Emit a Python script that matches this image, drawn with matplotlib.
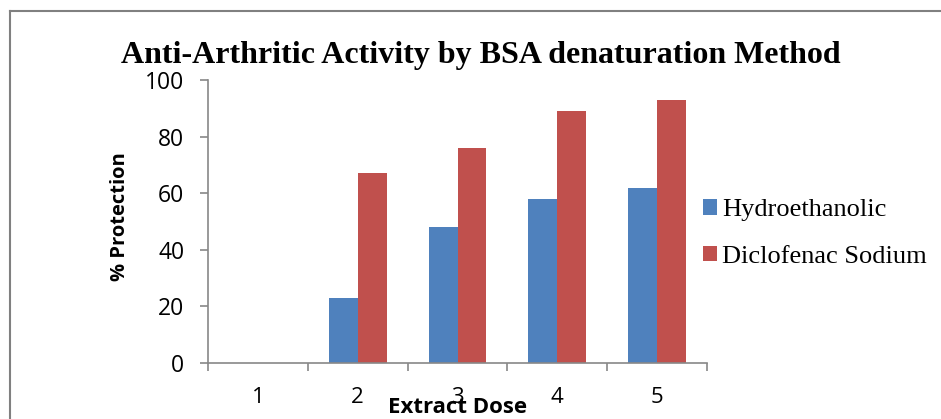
import matplotlib
matplotlib.use("Agg")
import matplotlib.pyplot as plt
import numpy as np
from matplotlib.lines import Line2D

categories = ["1", "2", "3", "4", "5"]
hydroethanolic = [0, 23, 48, 58, 62]
diclofenac = [0, 67, 76, 89, 93]
series_names = ["Hydroethanolic", "Diclofenac Sodium"]
colors = ["#4F81BD", "#C0504D"]

fig = plt.figure(figsize=(9.41, 4.19), dpi=100)
ax = fig.add_axes([208/941, 56/419, 499/941, 283/419])

x = np.arange(len(categories))
w = 0.29
ax.bar(x - w/2, hydroethanolic, w, color=colors[0], label=series_names[0])
ax.bar(x + w/2, diclofenac, w, color=colors[1], label=series_names[1])

ax.set_xlim(-0.5, len(categories) - 0.5)
ax.set_ylim(0, 100)
ax.set_yticks(np.arange(0, 101, 20))
ax.set_xticks(np.arange(-0.5, len(categories), 1.0))
ax.set_xticklabels([])
ax.set_xticks(x, minor=True)
ax.set_xticklabels(categories, minor=True)
ax.tick_params(axis="x", which="minor", length=0, pad=17, labelsize=16)
ax.tick_params(axis="x", which="major", length=6, color="#888888", width=1.2)
ax.tick_params(axis="y", length=6, color="#888888", width=1.2, labelsize=16.5, pad=11)
for lab in ax.get_xticklabels(minor=True) + ax.get_yticklabels():
    lab.set_family("Open Sans")

for s in ["top", "right"]:
    ax.spines[s].set_visible(False)
for s in ["left", "bottom"]:
    ax.spines[s].set_color("#888888")
    ax.spines[s].set_linewidth(1.2)

ax.set_ylabel("% Protection", fontsize=14.5, fontweight="bold", family="Open Sans")
ax.yaxis.label.set_va("center")
ax.yaxis.set_label_coords(-0.176, 0.516)
ax.set_xlabel("Extract Dose", fontsize=16, fontweight="bold", family="Open Sans")
ax.xaxis.label.set_va("center")
ax.xaxis.set_label_coords(0.5, -0.159)

fig.text(481/941, 1 - 55/419, "Anti-Arthritic Activity by BSA denaturation Method",
         ha="center", va="center", fontsize=23, fontweight="bold", family="Liberation Serif")

leg = ax.legend(loc="center left", bbox_to_anchor=(703/941, 1 - 233.5/419),
                bbox_transform=fig.transFigure, frameon=False, borderpad=0, borderaxespad=0,
                prop={"family": "Liberation Serif", "size": 19},
                handlelength=0.53, handleheight=0.5, handletextpad=0.2, labelspacing=0.92)

# outer frame
fig.add_artist(Line2D([9.5/941, 9.5/941], [0, 1 - 11.5/419], transform=fig.transFigure, color="#808080", lw=1.5))
fig.add_artist(Line2D([9.5/941, 1], [1 - 11.5/419, 1 - 11.5/419], transform=fig.transFigure, color="#808080", lw=1.5))

fig.savefig("out.png", dpi=100)
